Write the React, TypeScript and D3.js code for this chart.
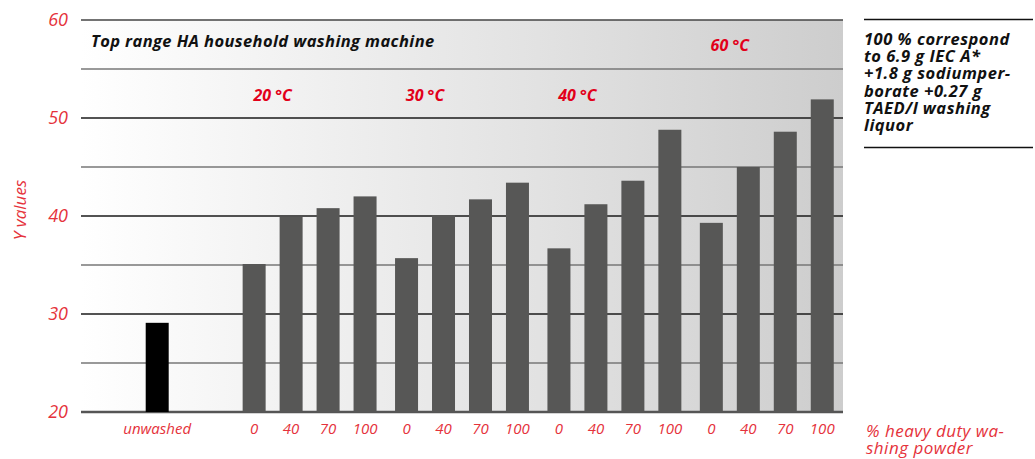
import * as d3 from 'd3';

const groups = ['unwashed', '20 °C', '30 °C', '40 °C', '60 °C'];
const doses = ['0', '40', '70', '100'];
const unwashedValue = 29.1;
const washedValues: Record<string, number[]> = {
  '20 °C': [35.1, 39.9, 40.8, 42.0],
  '30 °C': [35.7, 40.1, 41.7, 43.4],
  '40 °C': [36.7, 41.2, 43.6, 48.8],
  '60 °C': [39.3, 45.0, 48.6, 51.9],
};
const yTicks = [20, 30, 40, 50, 60];
const yGrid = [20, 25, 30, 35, 40, 45, 50, 55, 60];
const noteLines = [
  '100 % correspond',
  'to 6.9 g IEC A*',
  '+1.8 g sodiumper-',
  'borate +0.27 g',
  'TAED/l washing',
  'liquor',
];

const W = 1035;
const H = 459;
const left = 81;
const right = 843;
const top = 20;
const bottom = 412;
const RED = '#e5323b';
const RED_BOLD = '#e2001a';
const FONT = '"Open Sans", "Noto Sans", sans-serif';

export default function App() {
  const x = d3.scaleBand<string>().domain(groups).range([left, right]);
  const inner = d3
    .scaleBand<string>()
    .domain(doses)
    .range([0, x.bandwidth()])
    .paddingInner(0.378)
    .paddingOuter(0.25);
  const y = d3.scaleLinear().domain([20, 60]).range([bottom, top]);
  const bw = inner.bandwidth();

  const washedGroups = groups.slice(1);

  return (
    <div style={{ position: 'absolute', left: 0, top: 0 }}>
      <svg width={W} height={H} style={{ display: 'block', fontFamily: FONT }}>
        <defs>
          <linearGradient id="bg" x1="0" x2="1" y1="0" y2="0">
            <stop offset="0" stopColor="#ffffff" />
            <stop offset="0.6" stopColor="#e2e2e2" />
            <stop offset="1" stopColor="#cdcdcd" />
          </linearGradient>
        </defs>

        <rect x={left} y={top} width={right - left} height={bottom - top} fill="url(#bg)" />

        {yGrid.map((v) => (
          <line
            key={v}
            x1={left}
            x2={right}
            y1={y(v)}
            y2={y(v)}
            stroke={v === 20 ? '#555' : v === 60 ? '#444' : v % 10 === 0 ? '#1a1a1a' : '#777'}
            strokeWidth={v === 20 ? 2.5 : 1.6}
          />
        ))}

        {yTicks.map((v) => (
          <text
            key={v}
            x={68}
            y={y(v)}
            dy="0.35em"
            textAnchor="end"
            fill={RED}
            fontStyle="italic"
            fontSize={18}
          >
            {v}
          </text>
        ))}

        <text
          transform={`translate(26,210) rotate(-90)`}
          textAnchor="middle"
          fill={RED}
          fontStyle="italic"
          fontSize={17}
        >
          Y values
        </text>

        {/* unwashed reference */}
        <rect
          x={(x('unwashed') ?? 0) + x.bandwidth() / 2 - bw / 2}
          y={y(unwashedValue)}
          width={bw}
          height={y(20) - y(unwashedValue)}
          fill="#000"
        />
        <text
          x={(x('unwashed') ?? 0) + x.bandwidth() / 2}
          y={434}
          textAnchor="middle"
          fill={RED}
          fontStyle="italic"
          fontSize={15}
        >
          unwashed
        </text>

        {washedGroups.map((g) => {
          const gx = x(g) ?? 0;
          return (
            <g key={g}>
              {washedValues[g].map((v, i) => (
                <rect
                  key={i}
                  x={gx + (inner(doses[i]) ?? 0)}
                  y={y(v)}
                  width={bw}
                  height={y(20) - y(v)}
                  fill="#575756"
                />
              ))}
              {doses.map((d) => (
                <text
                  key={d}
                  x={gx + (inner(d) ?? 0) + bw / 2}
                  y={434}
                  textAnchor="middle"
                  fill={RED}
                  fontStyle="italic"
                  fontSize={15}
                >
                  {d}
                </text>
              ))}
              <text
                x={gx + ((inner('0') ?? 0) + (inner('40') ?? 0) + bw) / 2}
                y={g === '60 °C' ? 51 : 101}
                textAnchor="middle"
                fill={RED_BOLD}
                fontStyle="italic"
                fontWeight="bold"
                fontSize={16}
              >
                {g}
              </text>
            </g>
          );
        })}

        <text
          x={91}
          y={47}
          fill="#111"
          fontStyle="italic"
          fontWeight="bold"
          fontSize={16.5}
          letterSpacing={0.4}
        >
          Top range HA household washing machine
        </text>

        {/* note on the right */}
        <line x1={864} x2={1033} y1={19.5} y2={19.5} stroke="#111" strokeWidth={1.5} />
        {noteLines.map((t, i) => (
          <text
            key={i}
            x={864}
            y={44.5 + i * 17.35}
            fill="#111"
            fontStyle="italic"
            fontWeight="bold"
            fontSize={16.5}
            letterSpacing={0.5}
          >
            {t}
          </text>
        ))}
        <line x1={864} x2={1033} y1={147.5} y2={147.5} stroke="#111" strokeWidth={1.5} />

        <text x={866} y={437} fill={RED} fontStyle="italic" fontSize={17} letterSpacing={0.5}>
          % heavy duty wa-
        </text>
        <text x={866} y={453.5} fill={RED} fontStyle="italic" fontSize={17} letterSpacing={0.5}>
          shing powder
        </text>
      </svg>
    </div>
  );
}
